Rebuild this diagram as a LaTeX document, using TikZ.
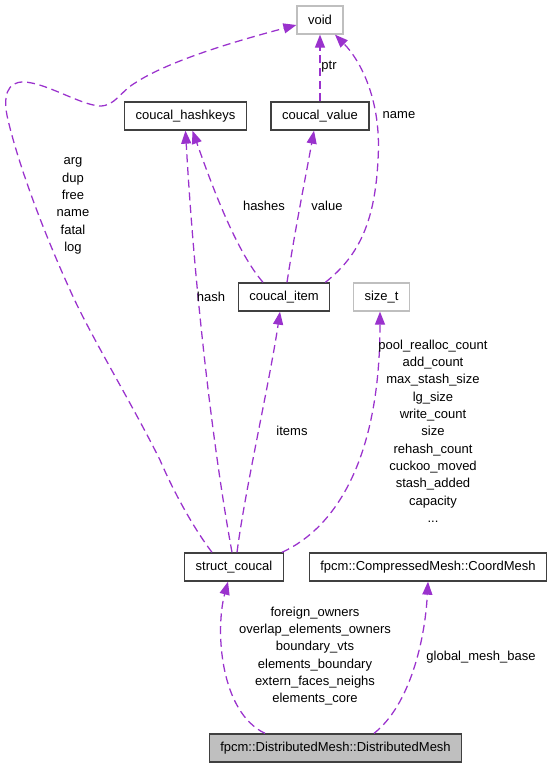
\documentclass[tikz,border=0pt]{standalone}
\usepackage{fontspec}
\usetikzlibrary{arrows.meta,calc}
\newfontfamily\dxsans{Liberation Sans}
\newcommand{\dxfont}{\dxsans\fontsize{9.75pt}{13pt}\selectfont}
\definecolor{EdgeClr}{RGB}{154,50,205}
\definecolor{BoxClr}{RGB}{64,64,64}
\definecolor{GhostClr}{RGB}{191,191,191}
\definecolor{MainClr}{RGB}{191,191,191}

\begin{document}
\begin{tikzpicture}[x=0.75pt,y=-0.75pt,
  box/.style={draw=BoxClr,line width=1pt,fill=white,inner xsep=8.25pt,inner ysep=0pt,
    minimum height=21pt,font=\dxfont},
  ghost/.style={box,draw=GhostClr},
  member/.style={draw=EdgeClr,line width=0.95pt,dash pattern=on 6pt off 3.5pt,
    -{Triangle[length=9.75pt,width=7.5pt]}},
  lbl/.style={font=\dxfont,align=center,inner sep=0pt}]
\useasboundingbox (0,0) rectangle (553,768);

\node[ghost] (void) at (320,20) {void};
\node[box] (hashkeys) at (185.5,116) {coucal\_hashkeys};
\node[box] (value) at (320,116) {coucal\_value};
\node[box] (item) at (284,297) {coucal\_item};
\node[ghost] (sizet) at (381.5,297) {size\_t};
\node[box] (coucal) at (234,567) {struct\_coucal};
\node[box] (coord) at (428,567) {fpcm::CompressedMesh::CoordMesh};
\node[box,fill=MainClr] (dmesh) at (335.5,748) {fpcm::DistributedMesh::DistributedMesh};

\draw[member] ($(coucal.north)+(-22,0)$) .. controls (195,530) and (175,495) .. (160,460)
  .. controls (130,400) and (90,335) .. (70,290)
  .. controls (45,235) and (20,170) .. (8,120)
  .. controls (2,95) and (8,82) .. (23,82)
  .. controls (45,82) and (80,105) .. (100,106)
  .. controls (115,106) and (120,92) .. (135,83)
  .. controls (170,60) and (240,40) .. ($(void.west)+(0,5)$);
\draw[member] ($(coucal.north)+(-2,0)$) .. controls (215,460) and (195,300) .. (hashkeys.south);
\draw[member] ($(coucal.north)+(3,0)$) .. controls (245,490) and (270,380) .. ($(item.south)+(-4,0)$);
\draw[member] ($(coucal.north east)+(-2,0)$) .. controls (335,528) and (380,460) .. ($(sizet.south)+(-1.5,0)$);
\draw[member] ($(item.north)+(-21,0)$) .. controls (235,250) and (210,180) .. ($(hashkeys.south)+(7,0)$);
\draw[member] ($(item.north)+(3,0)$) .. controls (295,230) and (305,180) .. ($(value.south)+(-6,0)$);
\draw[member] ($(item.north east)+(-5,0)$) .. controls (360,255) and (375,220) .. (378,160)
  .. controls (382,100) and (360,60) .. ($(void.south)+(15,0)$);
\draw[member] (value.north) -- (void.south);
\draw[member] ($(dmesh.north)+(-70.5,0)$) .. controls (220,712) and (215,630) .. ($(coucal.south)+(-6,0)$);
\draw[member] ($(dmesh.north)+(38.5,0)$) .. controls (410,705) and (425,640) .. (coord.south);

\node[lbl] (lblvoid) at (73,206) {arg\\dup\\free\\name\\fatal\\log};
\node[lbl] (lblhash) at (211,297) {hash};
\node[lbl] (lblitems) at (292,431) {items};
\node[lbl] (lblsize) at (433,431) {pool\_realloc\_count\\add\_count\\max\_stash\_size\\lg\_size\\write\_count\\size\\rehash\_count\\cuckoo\_moved\\stash\_added\\capacity\\...};
\node[lbl] (lblhashes) at (264,206) {hashes};
\node[lbl] (lblvalue) at (327,206) {value};
\node[lbl] (lblname) at (399,115) {name};
\node[lbl] (lblptr) at (329,67) {ptr};
\node[lbl] (lblcoucal) at (315,656) {foreign\_owners\\overlap\_elements\_owners\\boundary\_vts\\elements\_boundary\\extern\_faces\_neighs\\elements\_core};
\node[lbl] (lblcoord) at (481,657) {global\_mesh\_base};

\end{tikzpicture}
\end{document}
